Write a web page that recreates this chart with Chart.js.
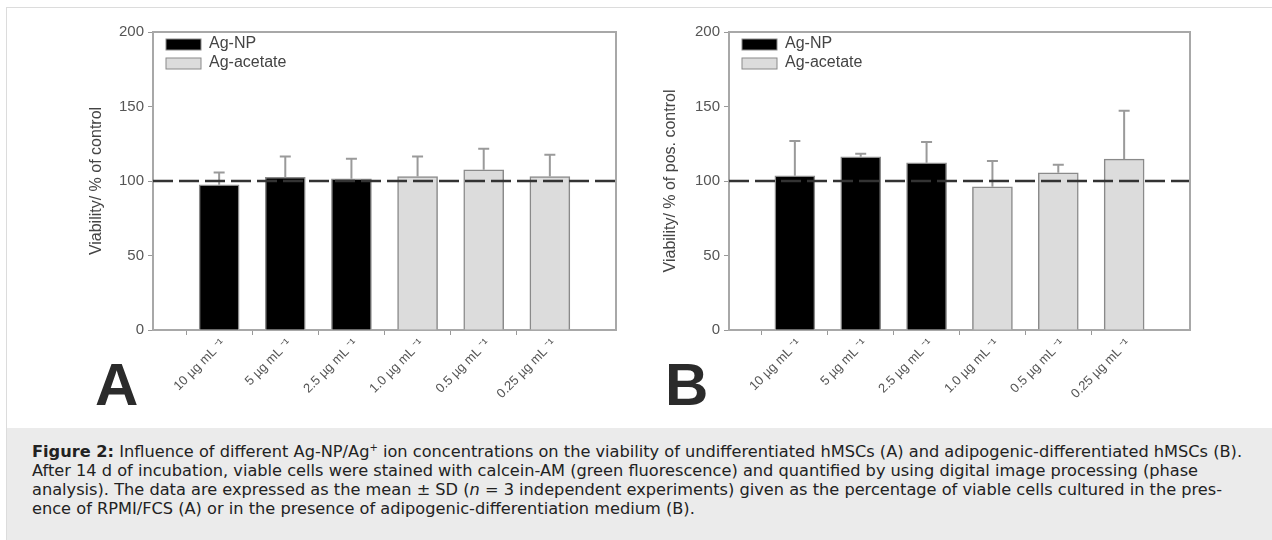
<!DOCTYPE html>
<html>
<head>
<meta charset="utf-8">
<script src="https://cdn.jsdelivr.net/npm/chart.js@4.4.1/dist/chart.umd.min.js"></script>
<style>
  body { margin: 0; width: 1272px; height: 540px; background: #fff; position: relative; overflow: hidden;
         font-family: "Liberation Sans", Arial, sans-serif; }
  .frame { position: absolute; left: 6px; top: 7px; width: 1280px; height: 600px;
           border-top: 1px solid #dcdcdc; border-left: 1px solid #dcdcdc; }
  .panel { position: absolute; top: 0; }
  #caption { position: absolute; left: 7px; top: 428px; right: 0; bottom: 0; background: #ebebeb;
             padding: 14px 0 0 25px; font-family: "DejaVu Sans", Verdana, sans-serif; font-size: 16.2px;
             line-height: 19px; color: #222; white-space: nowrap; }
  #caption sup { font-size: 10px; line-height: 0; }
</style>
</head>
<body>
<div class="frame"></div>
<canvas id="chart-a" class="panel" width="636" height="428" style="left:0"></canvas>
<canvas id="chart-b" class="panel" width="636" height="428" style="left:636px"></canvas>
<div id="caption">
  <b>Figure 2:</b> Influence of different Ag-NP/Ag<sup>+</sup> ion concentrations on the viability of undifferentiated hMSCs (A) and adipogenic-differentiated hMSCs (B).<br>
  After 14 d of incubation, viable cells were stained with calcein-AM (green fluorescence) and quantified by using digital image processing (phase<br>
  analysis). The data are expressed as the mean ± SD (<i>n</i> = 3 independent experiments) given as the percentage of viable cells cultured in the pres-<br>
  ence of RPMI/FCS (A) or in the presence of adipogenic-differentiation medium (B).
</div>
<script>
// Values
const concentrations = ['10 µg mL', '5 µg mL', '2.5 µg mL', '1.0 µg mL', '0.5 µg mL', '0.25 µg mL'];
const treatments = ['Ag-NP', 'Ag-NP', 'Ag-NP', 'Ag-acetate', 'Ag-acetate', 'Ag-acetate'];
const seriesNames = ['Ag-NP', 'Ag-acetate'];
const seriesColors = ['#000000', '#dcdcdc'];

const meanA = [97.4, 102.4, 101.5, 103, 107.5, 103];
const sdA = [8.3, 14.1, 13.4, 13.5, 14.1, 14.6];
const meanB = [103.5, 116.2, 112.2, 96.1, 105.5, 114.7];
const sdB = [23.3, 2.1, 13.9, 17.4, 5.4, 32.4];

const yTicks = [0, 50, 100, 150, 200];
const controlLevel = 100;

Chart.defaults.font.family = '"Liberation Sans", Arial, sans-serif';

// empty slot at both ends so the bars sit at 1..6 of 0..7
const xLabels = ['', ...concentrations.map(c => c + ' \u207B\u00B9'), ''];

function buildDatasets(means, sds) {
  return seriesNames.map((name, s) => ({
    label: name,
    data: [null, ...means.map((v, i) => treatments[i] === name ? v : null), null],
    sd: [null, ...sds.map((v, i) => treatments[i] === name ? v : null), null],
    backgroundColor: seriesColors[s],
    borderColor: '#8a8a8a',
    borderWidth: 1.5
  }));
}

// error bars, control line, frame, legend and panel letter
const panelDecor = {
  id: 'panelDecor',
  afterDatasetsDraw(chart) {
    const { ctx, chartArea: area } = chart;
    const y = chart.scales.y;
    ctx.save();
    // upper SD bars
    ctx.strokeStyle = '#9a9a9a';
    ctx.lineWidth = 2;
    chart.data.datasets.forEach((ds, d) => {
      chart.getDatasetMeta(d).data.forEach((bar, i) => {
        if (ds.data[i] == null) return;
        const top = y.getPixelForValue(ds.data[i] + ds.sd[i]);
        ctx.beginPath();
        ctx.moveTo(bar.x, bar.y);
        ctx.lineTo(bar.x, top);
        ctx.moveTo(bar.x - 5.5, top);
        ctx.lineTo(bar.x + 5.5, top);
        ctx.stroke();
      });
    });
    // control line
    const yc = y.getPixelForValue(controlLevel);
    ctx.strokeStyle = '#333';
    ctx.lineWidth = 2.5;
    ctx.setLineDash([20, 6]);
    ctx.beginPath();
    ctx.moveTo(area.left, yc);
    ctx.lineTo(area.right, yc);
    ctx.stroke();
    ctx.setLineDash([]);
    // top and right frame
    ctx.strokeStyle = '#a8a8a8';
    ctx.lineWidth = 2;
    ctx.beginPath();
    ctx.moveTo(area.left, area.top);
    ctx.lineTo(area.right, area.top);
    ctx.lineTo(area.right, area.bottom);
    ctx.stroke();
    ctx.restore();
  },
  afterDraw(chart, args, opts) {
    const { ctx, chartArea: area } = chart;
    ctx.save();
    chart.data.datasets.forEach((ds, d) => {
      const bx = area.left + 13, by = area.top + 7 + d * 19;
      ctx.fillStyle = ds.backgroundColor;
      ctx.fillRect(bx, by, 35, 11);
      ctx.strokeStyle = '#8a8a8a';
      ctx.lineWidth = 1;
      ctx.strokeRect(bx, by, 35, 11);
      ctx.fillStyle = '#444';
      ctx.font = '16px "Liberation Sans", Arial, sans-serif';
      ctx.textBaseline = 'middle';
      ctx.fillText(ds.label, bx + 43, by + 5);
    });
    ctx.fillStyle = '#2b2b2b';
    ctx.font = 'bold 60px "Liberation Sans", Arial, sans-serif';
    ctx.textBaseline = 'alphabetic';
    ctx.fillText(opts.letter, opts.letterX, 405);
    ctx.restore();
  }
};

function makePanel(id, means, sds, yTitle, axisWidth, titlePad, letter, letterX, rightPad) {
  return new Chart(document.getElementById(id), {
    type: 'bar',
    data: { labels: xLabels, datasets: buildDatasets(means, sds) },
    options: {
      responsive: false,
      animation: false,
      layout: { padding: { left: 0, top: 32, right: rightPad, bottom: 0 } },
      datasets: { bar: { grouped: false, barThickness: 40, borderSkipped: 'start' } },
      plugins: {
        legend: { display: false },
        tooltip: { enabled: false },
        panelDecor: { letter: letter, letterX: letterX }
      },
      scales: {
        x: {
          offset: false,
          afterFit(scale) { scale.height = 98; },
          grid: {
            drawOnChartArea: false,
            tickLength: 5,
            tickColor: c => (c.index === 0 || c.index === xLabels.length - 1) ? 'rgba(0,0,0,0)' : '#999'
          },
          border: { color: '#a8a8a8', width: 2 },
          ticks: { autoSkip: false, minRotation: 45, maxRotation: 45, color: '#555', font: { size: 13 }, padding: 1, labelOffset: 4 }
        },
        y: {
          min: 0,
          max: 200,
          afterFit(scale) { scale.width = axisWidth; },
          afterBuildTicks(scale) { scale.ticks = yTicks.map(v => ({ value: v })); },
          grid: { drawOnChartArea: false, tickLength: 5, tickColor: '#999' },
          border: { color: '#a8a8a8', width: 2 },
          ticks: { color: '#555', font: { size: 15 }, padding: 4 },
          title: {
            display: true,
            text: yTitle,
            color: '#444',
            font: { size: 16, lineHeight: 1 },
            padding: { top: titlePad, bottom: 0 }
          }
        }
      }
    },
    plugins: [panelDecor]
  });
}

makePanel('chart-a', meanA, sdA, 'Viability/ % of control', 153, 89, 'A', 95, 20);
makePanel('chart-b', meanB, sdB, 'Viability/ % of pos. control', 93, 27, 'B', 29, 82);
</script>
</body>
</html>
